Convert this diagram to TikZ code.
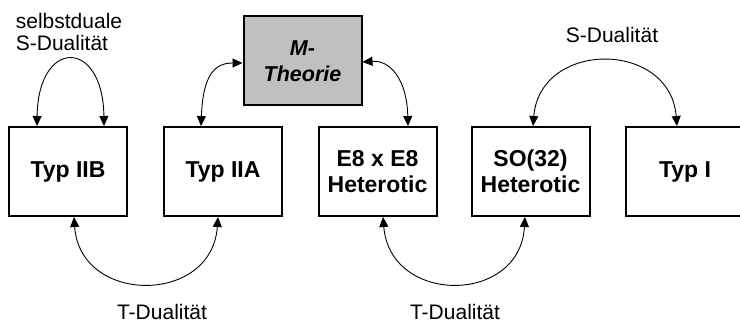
\documentclass[tikz,border=0pt]{standalone}
\usepackage{fontspec}
\setmainfont{Liberation Sans}
\usetikzlibrary{arrows.meta,calc}
\definecolor{mgray}{RGB}{192,192,192}
\tikzset{
  theory/.style={draw=black, line width=2pt, minimum width=118pt, minimum height=89pt, inner sep=0pt, align=center, font=\fontsize{23}{26}\selectfont\bfseries},
  mtheory/.style={theory, fill=mgray, font=\fontsize{21.5}{26}\selectfont\bfseries\itshape},
  dual/.style={{Triangle[length=10pt,width=9pt]}-{Triangle[length=10pt,width=9pt]}, line width=0.9pt, black},
  dlabel/.style={inner sep=0pt, font=\fontsize{21}{22}\selectfont}
}
\begin{document}
\begin{tikzpicture}[x=1pt,y=-1pt]
\useasboundingbox (0,0) rectangle (740,323);
\node[theory] (iib) at (68,171.5) {Typ IIB};
\node[theory] (iia) at (223,171.5) {Typ IIA};
\node[theory] (e8) at (377.5,171.5) {E8 x E8\\Heterotic};
\node[theory] (so) at (530.5,171.5) {SO(32)\\Heterotic};
\node[theory] (typi) at (685,171.5) {Typ I};
\node[mtheory] (m) at (302.5,61) {M-\\Theorie};

\node[dlabel, align=left] (lsd) at (69,32) {selbstduale\\S-Dualität};
\node[dlabel] (lsr) at (612,35) {S-Dualität};
\node[dlabel] (ltl) at (162,312) {T-Dualität};
\node[dlabel] (ltr) at (455,312) {T-Dualität};

\draw[dual] ($(iib.north)+(-31,0)$) .. controls +(1,-88) and +(-1,-88) .. ($(iib.north)+(36,0)$);
\draw[dual] ($(iia.north)+(-22,0)$) .. controls +(2,-51) and +(-28,0) .. ($(m.west)+(0,2)$);
\draw[dual] ($(m.east)+(0,1)$) .. controls +(28,-2) and +(-1,-46) .. ($(e8.north)+(30.5,0)$);
\draw[dual] ($(so.north)+(2.5,0)$) .. controls +(7,-86) and +(-7,-86) .. ($(typi.north)+(-8,0)$);
\draw[dual] ($(iib.south)+(6,0)$) .. controls +(6,88) and +(-6,88) .. ($(iia.south)+(-5,0)$);
\draw[dual] ($(e8.south)+(5.5,0)$) .. controls +(7,88) and +(-5,88) .. ($(so.south)+(-5.5,0)$);
\end{tikzpicture}
\end{document}
